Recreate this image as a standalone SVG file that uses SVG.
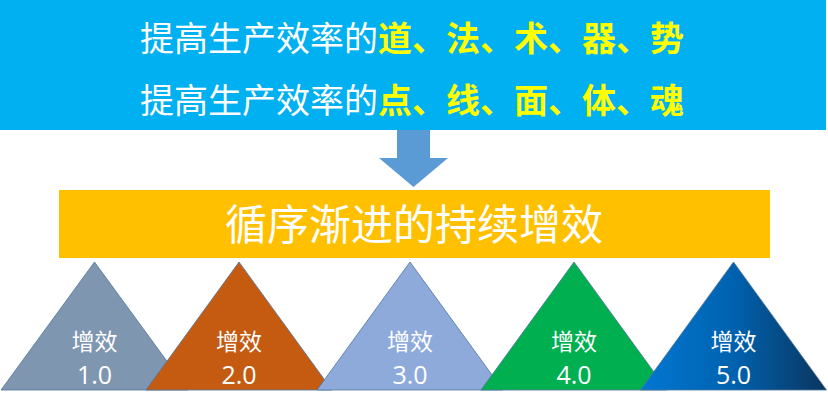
<svg xmlns="http://www.w3.org/2000/svg" width="828" height="402" viewBox="0 0 828 402">
<style>
.cjk{font-family:"Noto Sans CJK SC","Noto Sans",sans-serif;}
.w{fill:#FFFFFF;}
.y{fill:#FFFF00;font-weight:bold;}
.tri{stroke:#4F759B;stroke-width:0.8;}
.lbl{font-family:"Noto Sans CJK SC","Noto Sans",sans-serif;font-size:23px;fill:#FFFFFF;text-anchor:middle;}
.num{font-family:"Open Sans","Noto Sans",sans-serif;font-size:25px;fill:#FFFFFF;text-anchor:middle;}
</style>
<defs>
<linearGradient id="g5" x1="0" y1="0" x2="1" y2="0">
<stop offset="0" stop-color="#0277D2"/>
<stop offset="0.5" stop-color="#0062AF"/>
<stop offset="1" stop-color="#0B355E"/>
</linearGradient>
</defs>
<rect width="828" height="402" fill="#FFFFFF"/>
<g id="banner">
<rect x="0" y="0" width="826" height="130" fill="#00B0F0"/>
<text class="cjk" x="140" y="51" font-size="34"><tspan class="w">提高生产效率的</tspan><tspan class="y">道、法、术、器、势</tspan></text>
<text class="cjk" x="140" y="113" font-size="34"><tspan class="w">提高生产效率的</tspan><tspan class="y">点、线、面、体、魂</tspan></text>
</g>
<g id="connectors">
<polygon points="397,130 430,130 430,158 448,158 413.5,187 379,158 397,158" fill="#5B9BD5"/>
</g>
<g id="bar">
<rect x="59" y="190" width="711" height="68" fill="#FFC000"/>
<text class="cjk" x="414" y="240" font-size="42" fill="#FFFFFF" text-anchor="middle">循序渐进的持续增效</text>
</g>
<g id="t1">
<polygon class="tri" points="1,390 94.5,262 188,390" fill="#7F96B0"/>
<text class="lbl" x="94.5" y="350">增效</text>
<text class="num" x="94.5" y="384">1.0</text>
</g>
<g id="t2">
<polygon class="tri" points="146,390 239,262 332,390" fill="#C55A11"/>
<text class="lbl" x="239" y="350">增效</text>
<text class="num" x="239" y="384">2.0</text>
</g>
<g id="t3">
<polygon class="tri" points="317,390 410,262 503,390" fill="#8EAADB"/>
<text class="lbl" x="410" y="350">增效</text>
<text class="num" x="410" y="384">3.0</text>
</g>
<g id="t4">
<polygon class="tri" points="481,390 574,262 667,390" fill="#00B050"/>
<text class="lbl" x="574" y="350">增效</text>
<text class="num" x="574" y="384">4.0</text>
</g>
<g id="t5">
<polygon class="tri" points="640.5,390 733.5,262 826.5,390" fill="url(#g5)"/>
<text class="lbl" x="733.5" y="350">增效</text>
<text class="num" x="733.5" y="384">5.0</text>
</g>
</svg>
